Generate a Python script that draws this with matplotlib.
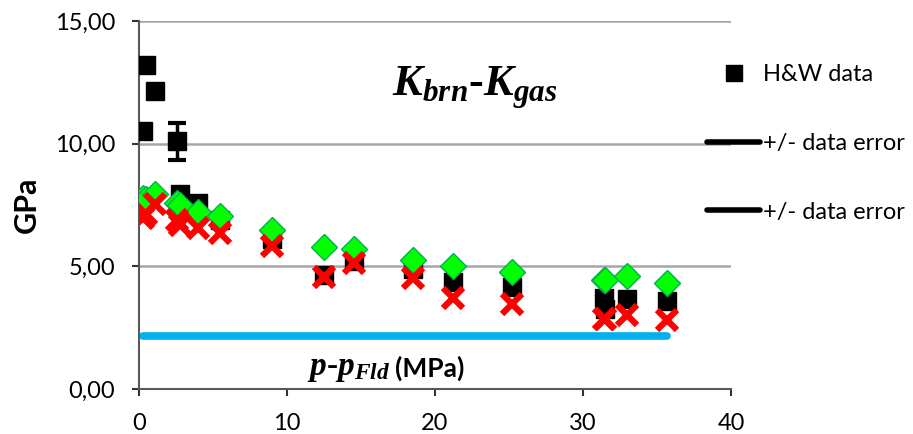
import matplotlib
matplotlib.use("Agg")
import matplotlib.pyplot as plt
from matplotlib.lines import Line2D
from matplotlib.ticker import FuncFormatter

plt.rcParams["font.family"] = ["Lato", "DejaVu Sans"]
plt.rcParams["mathtext.fontset"] = "custom"
plt.rcParams["mathtext.rm"] = "Liberation Serif"
plt.rcParams["mathtext.it"] = "Liberation Serif:italic"
plt.rcParams["mathtext.bf"] = "Liberation Serif:bold"
plt.rcParams["mathtext.bfit"] = "Liberation Serif:bold:italic"

# pressure above the fluid pressure (MPa)
p_diff = [0.3, 0.5, 1.1, 2.6, 2.8, 4.0, 5.5, 9.0, 12.5, 14.5, 18.5, 21.2, 25.2, 31.4, 31.5, 33.0, 35.7]
# H&W measured data (GPa)
hw_data = [10.5, 13.2, 12.15, 10.1, 7.95, 7.6, 6.9, 6.1, 4.65, 5.2, 4.9, 4.35, 4.15, 3.72, 3.27, 3.65, 3.6]
# model curves (GPa)
model_green = [7.8, 7.75, 7.95, 7.6, 7.5, 7.2, 7.05, 6.48, 5.78, 5.7, 5.27, 5.0, 4.77, 4.43, 4.43, 4.6, 4.33]
model_red = [6.95, 7.15, 7.55, 6.9, 6.7, 6.55, 6.35, 5.82, 4.58, 5.15, 4.52, 3.72, 3.47, 2.87, 2.87, 3.02, 2.8]
# constant reference level
ref_level = 2.15

# one point carries an error bar
err_x = [2.6]
err_y = [10.1]
err_size = [0.75]

fig = plt.figure(figsize=(9.13, 4.34), dpi=100)
ax = fig.add_axes([0.1522, 0.1037, 0.6484, 0.848])

ax.plot([p_diff[0], p_diff[-1]], [ref_level, ref_level], color="#00B0F0",
        linewidth=5.5, solid_capstyle="round", zorder=2)

ax.plot(p_diff, hw_data, linestyle="none", marker="s", markersize=13.5,
        color="black", zorder=3)
ax.errorbar(err_x, err_y, yerr=err_size, fmt="none", ecolor="black",
            elinewidth=2.5, capsize=6.5, capthick=3, zorder=3)
ax.plot(p_diff, model_green, linestyle="none", marker="D", markersize=13.5,
        markerfacecolor="#00FF00", markeredgecolor="#00B050", markeredgewidth=1,
        zorder=4)
ax.plot(p_diff, model_red, linestyle="none", marker="x", markersize=15,
        markeredgewidth=4.5, color="#FF0000", zorder=5)

ax.set_xlim(0, 40)
ax.set_ylim(0, 15)
ax.set_xticks([0, 10, 20, 30, 40])
ax.set_yticks([0, 5, 10, 15])
ax.yaxis.set_major_formatter(FuncFormatter(lambda v, pos: f"{v:.2f}".replace(".", ",")))
ax.grid(axis="y", color="#A6A6A6", linewidth=1.8)
ax.set_axisbelow(True)
for s in ["top", "right"]:
    ax.spines[s].set_visible(False)
for s in ["left", "bottom"]:
    ax.spines[s].set_color("#595959")
    ax.spines[s].set_linewidth(1.5)
ax.tick_params(axis="both", direction="out", length=5, width=1.5, color="#333333",
               labelsize=17)
ax.tick_params(axis="y", pad=12)
ax.tick_params(axis="x", pad=12)

ax.set_ylabel("GPa", fontsize=22, fontweight="bold", labelpad=10)

ax.text(0.567, 0.82, r"$\mathbfit{K}_{\mathbfit{brn}}$-$\mathbfit{K}_{\mathbfit{gas}}$",
        transform=ax.transAxes, fontsize=32, fontweight="bold",
        family="Liberation Serif", ha="center", va="center")
ax.text(0.425, 0.057, r"$\mathbfit{p}$-$\mathbfit{p}_{\mathbfit{Fld}}$",
        transform=ax.transAxes, fontsize=24, fontweight="bold",
        family="Liberation Serif", ha="right", va="center")
ax.text(0.432, 0.055, "(MPa)", transform=ax.transAxes, fontsize=19,
        fontweight="bold", ha="left", va="center")

handles = [
    Line2D([], [], linestyle="none", marker="s", markersize=12, color="black"),
    Line2D([], [], color="black", linewidth=4, solid_capstyle="round"),
    Line2D([], [], color="black", linewidth=4, solid_capstyle="round"),
]
labels = ["H&W data", "+/- data error", "+/- data error"]
fig.legend(handles, labels, loc="upper left", bbox_to_anchor=(0.7745, 0.852),
           frameon=False, fontsize=17, handlelength=2.26, handletextpad=0.094,
           labelspacing=2.02, borderpad=0, borderaxespad=0)

fig.savefig("out.png", dpi=100)
